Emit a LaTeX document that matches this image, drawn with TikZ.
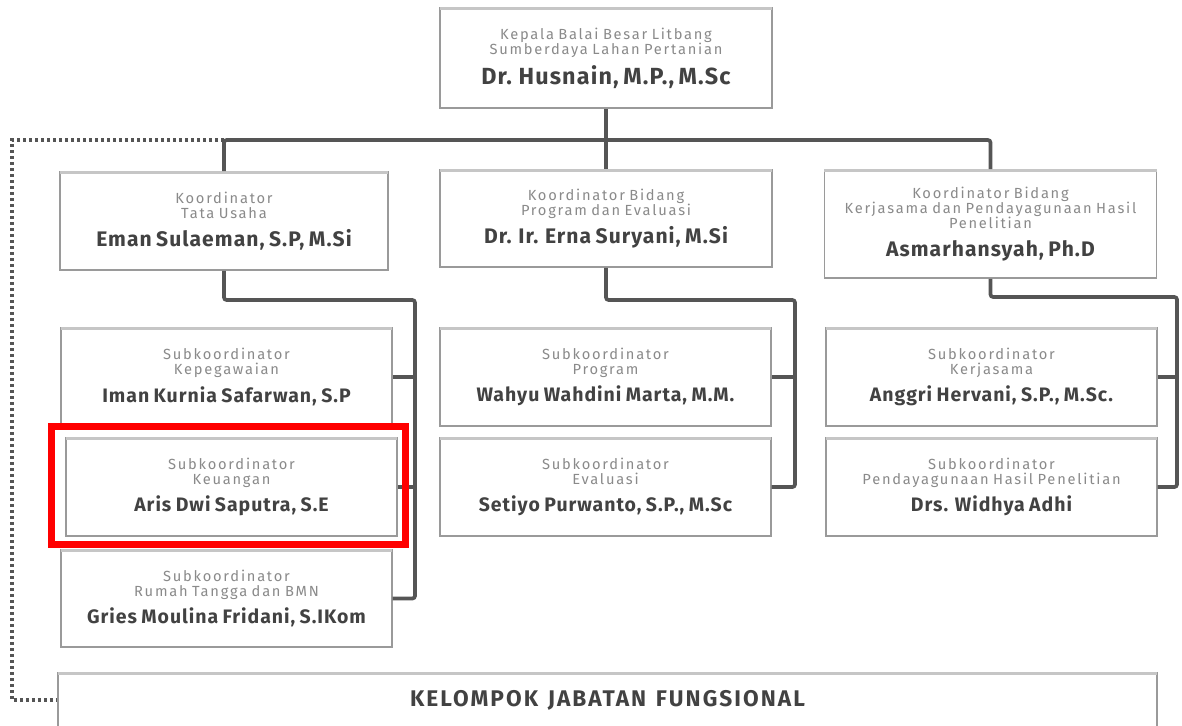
\documentclass[tikz,border=0pt]{standalone}
\usepackage{fontspec}
\setmainfont{Fira Sans}
\newfontfamily\titlefont[LetterSpace=12,WordSpace=1.4]{Fira Sans}
\newfontfamily\namefont[LetterSpace=5,WordSpace=1.3]{Fira Sans}
\newfontfamily\groupfont[LetterSpace=9,WordSpace=1.3]{Fira Sans}
\usetikzlibrary{positioning}

\definecolor{titlegray}{HTML}{8A8A8A}
\definecolor{namegray}{HTML}{424242}
\definecolor{boxgray}{HTML}{9A9A9A}
\definecolor{linegray}{HTML}{555555}

% title lines (gray) over the name (bold)
\newcommand{\unitbox}[3][14.6]{%
  {\titlefont\fontsize{11}{11.25}\selectfont\color{titlegray}#2\par}%
  \vspace{5pt}%
  {\namefont\fontsize{#1}{15.5}\selectfont\bfseries\color{namegray}#3\par}}

\tikzset{
  orgbox/.style={draw=boxgray,line width=1.3pt,fill=white,align=center,
    text width=#1,inner sep=0pt,minimum width=#1},
  orgbox/.default=246pt,
  topbar/.style={draw=gray!45,line width=2.6pt},
  conn/.style={draw=linegray,line width=2.8pt,rounded corners=2pt},
  dotline/.style={draw=linegray,line width=2.6pt,dash pattern=on 1.9pt off 2.6pt},
}

\begin{document}
\begin{tikzpicture}[x=0.75pt,y=-0.75pt]
\useasboundingbox (0,0) rectangle (1182,725);
% level 1
\node[orgbox=249pt,minimum height=75pt] (kepala) at (606,58)
  {\unitbox[17.5]{Kepala Balai Besar Litbang\\Sumberdaya Lahan Pertanian}{Dr. Husnain, M.P., M.Sc}};
% level 2
\node[orgbox,minimum height=73.5pt] (tu) at (224,221)
  {\unitbox[15.8]{Koordinator\\Tata Usaha}{Eman Sulaeman, S.P, M.Si}};
\node[orgbox=249pt,minimum height=72.75pt] (prog) at (606,218.5)
  {\unitbox[15.8]{Koordinator Bidang\\Program dan Evaluasi}{Dr. Ir. Erna Suryani, M.Si}};
\node[orgbox=249pt,minimum height=81pt] (kerja) at (990.5,224)
  {\unitbox[15.8]{Koordinator Bidang\\Kerjasama dan Pendayagunaan Hasil\\Penelitian}{Asmarhansyah, Ph.D}};
% level 3
\node[orgbox=248pt,minimum height=73.5pt] (peg) at (226.5,377)
  {\unitbox{Subkoordinator\\Kepegawaian}{Iman Kurnia Safarwan, S.P}};
\node[orgbox=248pt,minimum height=73.5pt] (keu) at (231.5,487)
  {\unitbox{Subkoordinator\\Keuangan}{Aris Dwi Saputra, S.E}};
\node[orgbox=248pt,minimum height=72.75pt] (rt) at (226.5,598.5)
  {\unitbox{Subkoordinator\\Rumah Tangga dan BMN}{Gries Moulina Fridani, S.IKom}};
\node[orgbox=248pt,minimum height=73.5pt] (subprog) at (605.5,377)
  {\unitbox{Subkoordinator\\Program}{Wahyu Wahdini Marta, M.M.}};
\node[orgbox=248pt,minimum height=73.5pt] (subeval) at (605.5,487)
  {\unitbox{Subkoordinator\\Evaluasi}{Setiyo Purwanto, S.P., M.Sc}};
\node[orgbox=248pt,minimum height=73.5pt] (subkerja) at (991.5,377)
  {\unitbox{Subkoordinator\\Kerjasama}{Anggri Hervani, S.P., M.Sc.}};
\node[orgbox=248pt,minimum height=73.5pt] (subhasil) at (991.5,487)
  {\unitbox{Subkoordinator\\Pendayagunaan Hasil Penelitian}{Drs. Widhya Adhi}};
% functional group
\node[draw=boxgray,line width=1.3pt,minimum width=824pt,minimum height=40.5pt,
  font=\groupfont\fontsize{17}{19}\selectfont\bfseries,text=namegray] (kelompok) at (607.5,700)
  {KELOMPOK JABATAN FUNGSIONAL};

\foreach \b in {kepala,tu,prog,kerja,peg,keu,rt,subprog,subeval,subkerja,subhasil,kelompok}
  \draw[topbar] ([xshift=0.6pt,yshift=-1.2pt]\b.north west) -- ([xshift=-0.6pt,yshift=-1.2pt]\b.north east);

% bus coordinates
\coordinate (bus) at (606,140);
\coordinate (tuR) at (415,300);
\coordinate (progR) at (795,300);
\coordinate (kerjaR) at (1177,297);
\coordinate (dotTL) at (12,140);
\coordinate (dotBL) at (12,700);

% connectors
\draw[conn] (kepala.south) -- (prog.north);
\draw[conn] (tu.north) |- (bus) -| (kerja.north);
\draw[conn] (tu.south) |- (tuR) |- (rt.east);
\draw[conn] (peg.east) -- (peg.east -| tuR);
\draw[conn] (keu.east) -- (keu.east -| tuR);
\draw[conn] (prog.south) |- (progR) |- (subeval.east);
\draw[conn] (subprog.east) -- (subprog.east -| progR);
\draw[conn] (kerja.south) |- (kerjaR) |- (subhasil.east);
\draw[conn] (subkerja.east) -- (subkerja.east -| kerjaR);
\draw[dotline] (tu.north |- bus) -- (dotTL) -- (dotBL) -- (kelompok.west);

% highlight
\draw[red,line width=5.2pt] (51.5,426.5) rectangle (405.5,544.5);
\end{tikzpicture}
\end{document}
